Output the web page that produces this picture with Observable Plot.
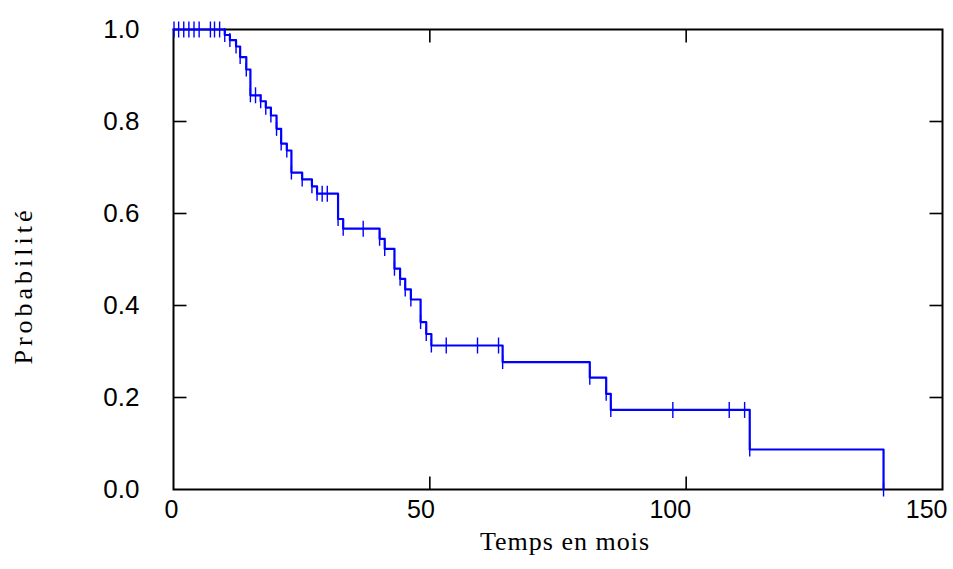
<!DOCTYPE html>
<html><head><meta charset="utf-8">
<script src="https://cdn.jsdelivr.net/npm/d3@7"></script>
<script src="https://cdn.jsdelivr.net/npm/@observablehq/plot@0.6"></script>
<style>body{margin:0;background:#fff}</style>
</head><body><div id="chart"></div>
<script>
// Event (death) times in months and survival probability after each event
const deathTimes = [10, 11, 12.2, 13, 14.2, 15, 17, 18, 19, 20.1, 21, 22.1, 23, 25.1, 27, 28, 32.1, 33.1, 40.2, 41.2, 43.1, 44.2, 45.2, 46.3, 48.2, 49.3, 50.3, 64.2, 81.2, 84.4, 85.3, 112.4, 138.5];
const deathSurv  = [0.988, 0.977, 0.963, 0.940, 0.913, 0.857, 0.844, 0.830, 0.813, 0.784, 0.752, 0.737, 0.689, 0.674, 0.659, 0.643, 0.588, 0.567, 0.545, 0.523, 0.480, 0.458, 0.435, 0.413, 0.364, 0.338, 0.313, 0.277, 0.243, 0.208, 0.173, 0.087, 0];
// Censored observations
const censorTimes = [0.1, 1, 2, 3, 4, 5, 7.2, 8, 9, 16, 29, 30, 37, 53.2, 59.3, 63.4, 97.4, 108.4, 111.4];
const censorSurv  = [1, 1, 1, 1, 1, 1, 1, 1, 1, 0.857, 0.643, 0.643, 0.567, 0.313, 0.313, 0.313, 0.173, 0.173, 0.173];
const xTicks = [0, 50, 100, 150];
const yTicks = [0, 0.2, 0.4, 0.6, 0.8, 1.0];
const xInnerTicks = [50, 100];
const yInnerTicks = [0.2, 0.4, 0.6, 0.8];
const xLabel = "Temps en mois";
const yLabel = "Probabilité";

const curve = [{t: 0, s: 1}, ...deathTimes.map((t, i) => ({t, s: deathSurv[i]}))];
const deaths = deathTimes.map((t, i) => ({t, s: deathSurv[i]}));
const censors = censorTimes.map((t, i) => ({t, s: censorSurv[i]}));

const R = (size) => Math.sqrt(size / Math.PI);
const vBar = {draw(ctx, size) { const r = R(size); ctx.moveTo(0, -r); ctx.lineTo(0, r); }};
const upBar = {draw(ctx, size) { const r = R(size); ctx.moveTo(0, 0); ctx.lineTo(0, -r); }};
const downBar = {draw(ctx, size) { const r = R(size); ctx.moveTo(0, 0); ctx.lineTo(0, r); }};
const rightBar = {draw(ctx, size) { const r = R(size); ctx.moveTo(0, 0); ctx.lineTo(r, 0); }};
const leftBar = {draw(ctx, size) { const r = R(size); ctx.moveTo(0, 0); ctx.lineTo(-r, 0); }};

const sans = "'Liberation Sans', Arial, sans-serif";
const serif = "'Liberation Serif', 'Times New Roman', serif";
const blue = "#0000ff";

const chart = Plot.plot({
  width: 953,
  height: 569,
  marginLeft: 173,
  marginRight: 11,
  marginTop: 29,
  marginBottom: 80,
  x: {domain: [0, 150], axis: null},
  y: {domain: [0, 1], axis: null},
  style: {fontFamily: sans, background: "#fff"},
  marks: [
    Plot.frame({stroke: "black", strokeWidth: 2}),
    // inward ticks on all four sides
    Plot.dot(xInnerTicks, {x: d => d, y: 0, symbol: upBar, r: 13, stroke: "black", strokeWidth: 1.6}),
    Plot.dot(xInnerTicks, {x: d => d, y: 1, symbol: downBar, r: 13, stroke: "black", strokeWidth: 1.6}),
    Plot.dot(yInnerTicks, {x: 0, y: d => d, symbol: rightBar, r: 13, stroke: "black", strokeWidth: 1.6}),
    Plot.dot(yInnerTicks, {x: 150, y: d => d, symbol: leftBar, r: 13, stroke: "black", strokeWidth: 1.6}),
    // tick labels
    Plot.text(xTicks, {x: d => d, frameAnchor: "bottom", dy: 11, dx: 5, textAnchor: "end", lineAnchor: "top", text: d => String(d), fontSize: 25, fill: "black"}),
    Plot.text(yTicks, {y: d => d, frameAnchor: "left", dx: -34, textAnchor: "end", text: d => d.toFixed(1), fontSize: 26, fill: "black"}),
    // axis titles
    Plot.text([xLabel], {frameAnchor: "bottom", dy: 42, dx: 7, lineAnchor: "top", text: d => d, fontFamily: serif, fontSize: 26, fill: "black"}),
    Plot.text([yLabel], {frameAnchor: "left", dx: -150, dy: 26, rotate: -90, textAnchor: "middle", text: d => d, fontFamily: serif, fontSize: 26, fill: "black"}),
    // Kaplan-Meier curve
    Plot.line(curve, {x: "t", y: "s", curve: "step-after", stroke: blue, strokeWidth: 2.2}),
    Plot.dot(deaths, {x: "t", y: "s", symbol: vBar, r: 7, stroke: blue, strokeWidth: 1.4}),
    Plot.dot(censors, {x: "t", y: "s", symbol: vBar, r: 8, stroke: blue, strokeWidth: 1.4})
  ]
});
d3.select(chart).selectAll("text").filter(function() { return this.textContent === yLabel; }).style("letter-spacing", "4px");
d3.select(chart).selectAll("text").filter(function() { return this.textContent === xLabel; }).style("letter-spacing", "1px");
document.getElementById("chart").appendChild(chart);
</script>
</body></html>
